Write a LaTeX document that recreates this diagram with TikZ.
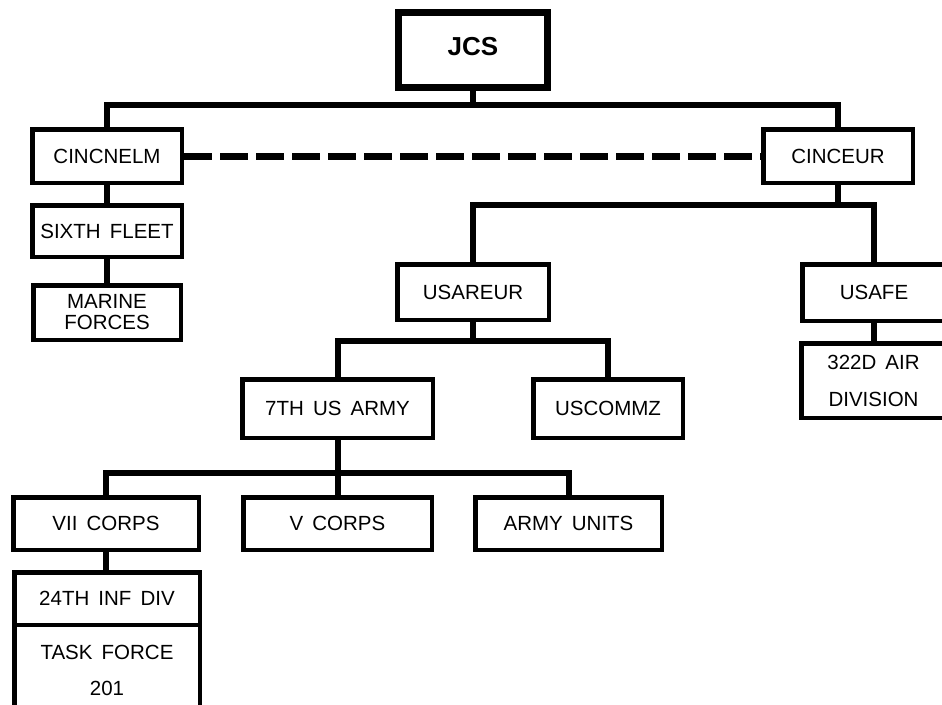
\documentclass[tikz,border=0pt]{standalone}
\usepackage{fontspec}
\setmainfont[WordSpace=1.6]{Liberation Sans}
\begin{document}
\begin{tikzpicture}[x=1pt,y=-1pt,
  box/.style={draw, line width=4.5pt, inner sep=0pt, align=center,
    font=\fontsize{20.5}{21}\selectfont},
  conn/.style={line width=6pt, line join=miter},
  dashconn/.style={line width=7pt, dash pattern=on 28pt off 8pt}]
\useasboundingbox (0,0) rectangle (942,704);
\clip (0,0) rectangle (942,704);
\fill[white] (0,0) rectangle (942,704);

% boxes
\node[box, line width=7pt, minimum width=149pt, minimum height=75pt,
  font=\fontsize{26}{27}\selectfont\bfseries] (jcs) at (473,50) {\raisebox{4pt}[0.716em][0pt]{JCS}};
\node[box, minimum width=149.5pt, minimum height=53.5pt] (cincnelm) at (107,156) {CINCNELM};
\node[box, minimum width=149.5pt, minimum height=53.5pt] (cinceur) at (838,156) {CINCEUR};
\node[box, minimum width=149.5pt, minimum height=51.5pt] (sixth) at (107,231) {SIXTH FLEET};
\node[box, minimum width=147.5pt, minimum height=54.5pt] (marine) at (107,312.5) {MARINE\\FORCES};
\node[box, minimum width=151.5pt, minimum height=55.5pt] (usareur) at (473,292) {USAREUR};
\node[box, minimum width=143.5pt, minimum height=56.5pt] (usafe) at (874,292.5) {USAFE};
\node[box, minimum width=144.5pt, minimum height=74.5pt,
  font=\fontsize{20.5}{37}\selectfont] (air) at (873.5,380.5) {322D AIR\\DIVISION};
\node[box, minimum width=190.5pt, minimum height=58.5pt] (army7) at (337.5,408.5) {7TH US ARMY};
\node[box, minimum width=149.5pt, minimum height=58.5pt] (uscommz) at (608,408.5) {USCOMMZ};
\node[box, minimum width=185.5pt, minimum height=52.5pt] (vii) at (106,523.5) {VII CORPS};
\node[box, minimum width=188.5pt, minimum height=52.5pt] (vcorps) at (337.5,523.5) {V CORPS};
\node[box, minimum width=186.5pt, minimum height=52.5pt] (units) at (568.5,523.5) {ARMY UNITS};
\node[box, minimum width=185.5pt, minimum height=52.5pt] (inf) at (107,598.5) {24TH INF DIV};
\node[box, minimum width=185.5pt, minimum height=90.5pt,
  font=\fontsize{20.5}{36}\selectfont] (task) at (107,670) {TASK FORCE\\201};

% connector junctions
\coordinate (bar1) at (473,105);
\coordinate (bar2) at (838,205);
\coordinate (bar3) at (473,341);
\coordinate (bar4) at (337.5,473);

\draw[conn] (jcs.south) -- (bar1);
\draw[conn] (cincnelm.north) |- (bar1) -| (cinceur.north);
\draw[dashconn] (cincnelm.east) -- (cinceur.west);
\draw[conn] (cincnelm.south) -- (sixth.north);
\draw[conn] (sixth.south) -- (marine.north);

\draw[conn] (cinceur.south) -- (bar2);
\draw[conn] (usareur.north) |- (bar2) -| (usafe.north);
\draw[conn] (usafe.south) -- (usafe.south |- air.north);

\draw[conn] (usareur.south) -- (bar3);
\draw[conn] (army7.north) |- (bar3) -| (uscommz.north);

\draw[conn] (army7.south) -- (bar4);
\draw[conn] (vii.north) |- (bar4) -| (units.north);
\draw[conn] (bar4) -- (vcorps.north);
\draw[conn] (vii.south) -- (vii.south |- inf.north);
\end{tikzpicture}
\end{document}
